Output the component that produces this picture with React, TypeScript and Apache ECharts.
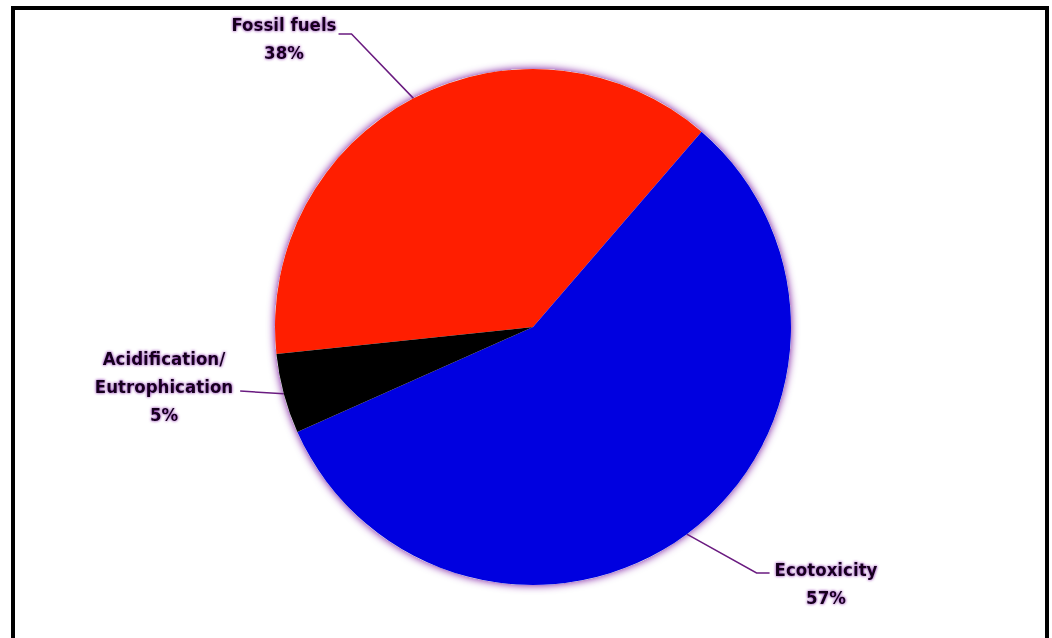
import React, { useEffect, useRef } from "react";
import * as echarts from "echarts";

// ---- data ----
const CATEGORIES: string[] = ["Fossil fuels", "Ecotoxicity", "Acidification/\nEutrophication"];
const SHARES: number[] = [38, 57, 5];
const COLORS: string[] = ["#ff1e00", "#0000e0", "#000000"];

// ---- label layout (text placement, not data) ----
type LabelPos = { x: number; y: number; side: "left" | "right"; gap: number; lineDy: number; leg: number };
const LABEL_LAYOUT: LabelPos[] = [
  { x: 284, y: 38, side: "left", gap: 2, lineDy: -4, leg: 13 },
  { x: 826, y: 583, side: "right", gap: 5, lineDy: -10, leg: 13 },
  { x: 164, y: 386, side: "left", gap: 7, lineDy: 5, leg: 0 },
];

export default function App() {
  const ref = useRef<HTMLDivElement>(null);

  useEffect(() => {
    if (!ref.current) return;
    const chart = echarts.init(ref.current, null, { renderer: "svg" });
    const total = SHARES.reduce((a, b) => a + b, 0);
    const center = [533, 327];
    const radius = 258;

    chart.setOption({
      animation: false,
      backgroundColor: "#ffffff",
      graphic: [
        {
          type: "rect",
          shape: { x: 13, y: 8, width: 1034, height: 700 },
          style: { fill: "none", stroke: "#000000", lineWidth: 4 },
          silent: true,
          z: 100,
        },
      ],
      series: [
        {
          type: "pie",
          silent: true,
          z: 1,
          center,
          radius,
          label: { show: false },
          labelLine: { show: false },
          itemStyle: {
            color: "#ffffff",
            shadowBlur: 9,
            shadowColor: "rgba(110, 10, 150, 1)",
          },
          data: [{ value: total, name: "" }],
        },
        {
          type: "pie",
          z: 2,
          center,
          radius,
          startAngle: 186,
          clockwise: true,
          avoidLabelOverlap: false,
          percentPrecision: 0,
          itemStyle: { borderWidth: 0 },
          label: {
            show: true,
            position: "outside",
            formatter: "{b}\n{d}%",
            fontFamily: "'DejaVu Sans Condensed', 'DejaVu Sans'",
            fontWeight: "bold",
            fontSize: 18.5,
            lineHeight: 28,
            color: "#14051c",
            textShadowColor: "rgba(120, 20, 160, 0.95)",
            textShadowBlur: 3,
          },
          labelLine: {
            show: true,
            length: 20,
            length2: 13,
            lineStyle: { color: "#6a1b80", width: 1.5 },
          },
          labelLayout: (params: any) => {
            const L = LABEL_LAYOUT[params.dataIndex];
            if (!L) return {};
            const w = params.labelRect.width;
            const start = params.labelLinePoints ? params.labelLinePoints[0] : [0, 0];
            const endX = L.side === "left" ? L.x + w / 2 + L.gap : L.x - w / 2 - L.gap;
            const endY = L.y + L.lineDy;
            const bendX = L.side === "left" ? endX + L.leg : endX - L.leg;
            return {
              x: L.x,
              y: L.y,
              align: "center",
              verticalAlign: "middle",
              labelLinePoints: [
                [start[0], start[1]],
                [bendX, endY],
                [endX, endY],
              ],
            };
          },
          data: CATEGORIES.map((name, i) => ({
            name,
            value: SHARES[i],
            itemStyle: { color: COLORS[i] },
          })),
        },
      ],
    });

    return () => chart.dispose();
  }, []);

  return (
    <div
      ref={ref}
      style={{ position: "fixed", left: 0, top: 0, width: 1052, height: 638, background: "#fff" }}
    />
  );
}
